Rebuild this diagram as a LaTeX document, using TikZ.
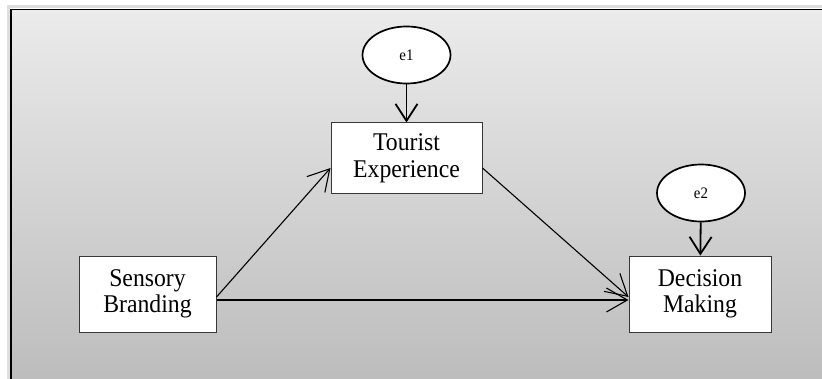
\documentclass[tikz,border=0pt]{standalone}
\usepackage{fontspec}
\setmainfont{Liberation Serif}[FakeStretch=0.93]
\usetikzlibrary{arrows.meta,shapes.geometric}
\definecolor{bgtop}{RGB}{235,235,235}
\definecolor{bgbottom}{RGB}{188,188,188}
\definecolor{boxline}{RGB}{55,55,55}
\definecolor{shadowgray}{RGB}{222,222,222}

\begin{document}
\begin{tikzpicture}[x=1pt, y=1pt,
	var/.style={rectangle, draw=boxline, line width=1pt, fill=white, inner sep=0pt, align=center, font=\fontsize{25.5}{26.5}\selectfont},
	err/.style={ellipse, draw, line width=1.7pt, fill=white, minimum width=88pt, minimum height=57pt, inner sep=0pt, font=\fontsize{16}{16}\selectfont},
	path/.style={-{Straight Barb[length=21pt,width=24pt]}, line width=1.1pt},
	epath/.style={-{Straight Barb[length=17pt,width=22pt]}, line width=1.8pt}]
	\useasboundingbox (0,0) rectangle (822,378);
	% background panel
	\draw[shadowgray, line width=3pt] (8,-5) -- (8,371.5) -- (830,371.5);
	\shade[top color=bgtop, bottom color=bgbottom] (11,-5) rectangle (830,368.5);
	\draw[line width=1.6pt] (11,-5) -- (11,368.5) -- (830,368.5);

	% variables
	\node[var, minimum width=137pt, minimum height=76pt] (sb) at (147.5,84) {Sensory\\Branding};
	\node[var, minimum width=151pt, minimum height=71pt] (te) at (406.5,219.5) {Tourist\\Experience};
	\node[var, minimum width=142pt, minimum height=76pt] (dm) at (700,84) {Decision\\Making};
	\node[err] (e1) at (406.5,323) {e1};
	\node[err] (e2) at (701,185) {e2};

	% paths
	\draw[path] ([yshift=-3pt]sb.east) -- ([yshift=-9.5pt]te.west);
	\draw[path] ([yshift=-6pt]sb.east) -- ([yshift=-6pt]dm.west);
	\draw[path] ([yshift=-9.5pt]te.east) -- ([yshift=-3pt]dm.west);
	\draw[epath] (e1) -- (te);
	\draw[epath] (e2) -- (dm);
\end{tikzpicture}
\end{document}
